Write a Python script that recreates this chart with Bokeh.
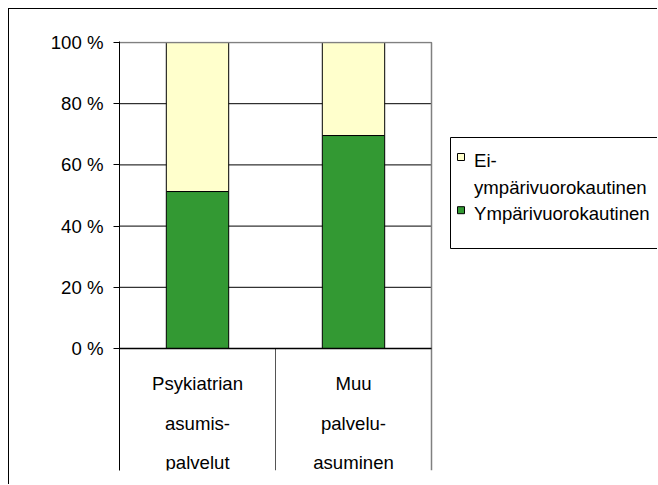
from bokeh.plotting import figure
from bokeh.models import ColumnDataSource, Range1d, FixedTicker
from bokeh.embed import file_html
from bokeh.resources import INLINE
from bokeh.core.properties import value

# ---- data ----
categories = ["Psykiatrian asumispalvelut", "Muu palveluasuminen"]
label_lines = [["Psykiatrian", "asumis-", "palvelut"],
               ["Muu", "palvelu-", "asuminen"]]
ymparivuorokautinen = [51.3, 69.6]
ei_ymparivuorokautinen = [48.7, 30.4]
y_ticks = [0, 20, 40, 60, 80, 100]
y_tick_labels = ["0 %", "20 %", "40 %", "60 %", "80 %", "100 %"]
legend_labels = [["Ei-", "ympärivuorokautinen"], ["Ympärivuorokautinen"]]

GREEN = "#339933"
YELLOW = "#FFFFCC"
FONT = "Liberation Sans"
FS = "18.6px"

# ---- layout constants (pixels) ----
FIG_W, FIG_H = 649, 476
LEFT, TOP, BOTTOM = 110, 32, 15   # frame offsets inside the figure
CAT_PX = 156                      # width of one category slot
PX_PER_PCT = 3.06                 # vertical scale of the value axis
FRAME_H = FIG_H - TOP - BOTTOM
FRAME_W = FIG_W - LEFT

y_end = 100 + 1 / PX_PER_PCT
y_start = y_end - FRAME_H / PX_PER_PCT
x_end = FRAME_W / CAT_PX

def dx(px):   # horizontal pixel offset from frame left -> data x
    return px / CAT_PX

def dy(px):   # vertical pixel offset below the 0 % line -> data y
    return -px / PX_PER_PCT

p = figure(width=FIG_W, height=FIG_H, output_backend="svg", toolbar_location=None,
           x_range=Range1d(0, x_end), y_range=Range1d(y_start, y_end),
           min_border_left=LEFT, min_border_right=0,
           min_border_top=TOP, min_border_bottom=BOTTOM,
           background_fill_color="white", border_fill_color="white")
p.styles = {"border-left": "1px solid black", "border-top": "1px solid black",
            "margin-left": "8px", "margin-top": "8px"}
p.outline_line_color = None
p.xaxis.visible = False
p.grid.visible = False

ticker = FixedTicker(ticks=y_ticks)
p.yaxis.ticker = ticker
p.yaxis.major_label_overrides = {t: l for t, l in zip(y_ticks, y_tick_labels)}
p.yaxis.axis_line_color = "black"
p.yaxis.major_tick_line_color = "black"
p.yaxis.major_tick_out = 6
p.yaxis.major_tick_in = 0
p.yaxis.minor_tick_line_color = None
p.yaxis.major_label_standoff = 10
p.yaxis.major_label_text_font = FONT
p.yaxis.major_label_text_font_size = FS
p.yaxis.major_label_text_color = "black"

n = len(categories)
xc = [i + 0.5 for i in range(n)]

# ---- gridlines within the plot area ----
p.segment(x0=[0] * len(y_ticks), y0=y_ticks, x1=[n] * len(y_ticks), y1=y_ticks,
          line_color="black", line_width=1)

# ---- bars ----
src = ColumnDataSource(dict(x=xc, cat=categories, green=ymparivuorokautinen,
                            yellow=ei_ymparivuorokautinen))
rs = p.vbar_stack(["green", "yellow"], x="x", width=0.4, source=src,
                  fill_color=[GREEN, YELLOW], line_color="black", line_width=1)

# ---- frame lines ----
p.segment(x0=[0], y0=[100], x1=[n], y1=[100], line_color="#808080", line_width=1.5)
p.segment(x0=[n], y0=[100], x1=[n], y1=[y_start], line_color="#808080", line_width=1.5)
p.segment(x0=list(range(1, n)), y0=[0] * (n - 1), x1=list(range(1, n)),
          y1=[y_start] * (n - 1), line_color="#555555", line_width=1)
p.segment(x0=[0], y0=[0], x1=[n], y1=[0], line_color="black", line_width=1.5)

# ---- category labels (multi-line) ----
baseline_px = [35, 74.5, 114]   # each line's baseline below the 0 % line
lx, ly, lt = [], [], []
for x, lines in zip(xc, label_lines):
    for i, t in enumerate(lines):
        lx.append(x)
        ly.append(dy(baseline_px[i]))
        lt.append(t)
p.text(x=lx, y=ly, text=lt, text_align="center", text_baseline="alphabetic",
       text_font=value(FONT), text_font_size=FS, text_color="black")

# ---- legend (drawn in the chart's right area) ----
p.quad(left=[dx(331)], right=[dx(620)], top=[dy(-211)], bottom=[dy(-100)],
       fill_color="white", line_color="black", line_width=1)
swatch_centres = [-191.5, -138.3]       # swatch centre above 0 % line
swatch_colors = [YELLOW, GREEN]
p.rect(x=[dx(341.5)] * 2, y=[dy(c) for c in swatch_centres],
       width=dx(7), height=7 / PX_PER_PCT, fill_color=swatch_colors,
       line_color="black", line_width=1)
leg_baselines = [[-188, -161.5], [-135]]
tx, ty, tt = [], [], []
for lines, bls in zip(legend_labels, leg_baselines):
    for t, b in zip(lines, bls):
        tx.append(dx(354.5))
        ty.append(dy(b))
        tt.append(t)
p.text(x=tx, y=ty, text=tt, text_align="left", text_baseline="alphabetic",
       text_font=value(FONT), text_font_size=FS, text_color="black")

open("out.html", "w").write(file_html(p, INLINE))
